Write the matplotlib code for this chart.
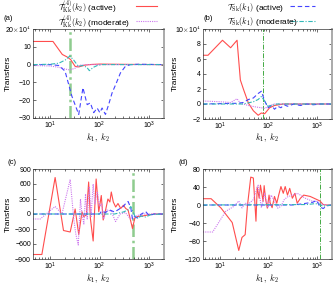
import matplotlib
matplotlib.use('Agg')
import matplotlib.pyplot as plt
from matplotlib.lines import Line2D
from matplotlib.ticker import FixedLocator, FixedFormatter

plt.rcParams['font.family'] = ['Liberation Sans', 'DejaVu Sans']
plt.rcParams['mathtext.fontset'] = 'cm'
plt.rcParams['font.size'] = 5

# 数据 >>>>>>>>>>>>>>>>>>>>>>>>>>>>>>>>>>>>>>>>>>>>>>>>>>>>>>>>>>
# (a) units of 1e4
red_a_k = [4.5, 11.4, 17.6, 22, 26, 32, 38, 50, 70, 100, 200, 500, 2000]
red_a_v = [13, 13, 5.7, 4.3, 2.8, -1.0, -1.3, -0.3, 0.1, 0.3, 0.2, 0.1, 0.0]
vio_a_k = [4.5, 10, 15, 20, 25, 32, 40, 60, 2000]
vio_a_v = [-0.5, -0.8, -1.5, -2.5, -3.0, -2.0, -0.3, 0, 0]
blu_a_k = [4.5, 10, 15, 20, 27.5, 37.8, 46, 56, 65, 76, 89, 101, 112, 131, 152,
           178, 218, 263, 331, 417, 600, 2000]
blu_a_v = [0, 0, -0.5, -3.7, -17.8, -28, -13, -22.5, -21.5, -27, -24.4, -27,
           -24.4, -28, -22.5, -16, -10.3, -4.7, -1, 0, 0.2, 0]
cya_a_k = [4.5, 10, 15, 20, 25, 30, 37, 45, 55, 62, 75, 90, 112, 2000]
cya_a_v = [0, 0.2, 0.8, 2.5, 4.8, 2.5, -1, -0.5, -1.5, -3.4, -1.5, -0.5, 0, 0]

# (b) units of 1e4
red_b_k = [4.5, 5.7, 11.3, 16.6, 22.5, 26.3, 30.7, 38.6, 48.6, 61, 71, 83, 105,
           132, 200, 2000]
red_b_v = [6.5, 6.5, 8.5, 7.5, 8.5, 3.2, 1.9, 0.1, -0.9, -1.5, -1.2, -1.3, -0.5,
           -0.2, 0, 0]
vio_b_k = [4.5, 10, 16.6, 22.5, 26.3, 38.6, 55, 71, 83, 105, 132, 2000]
vio_b_v = [0.4, 0.3, 0.2, 0.7, 0.1, -0.2, -0.4, -0.5, -0.6, -0.2, 0, 0]
blu_b_k = [4.5, 24, 30, 38.6, 48.6, 61, 71, 83, 97, 115, 132, 154, 179, 209, 244,
           331, 447, 612, 833, 1130, 2000]
blu_b_v = [0, 0.1, 0.2, 0.6, 0.8, 1.4, 1.7, 0.4, -0.5, -0.2, -0.7, -0.3, -0.5,
           -0.1, -0.3, 0, -0.2, 0, -0.1, 0, 0]
cya_b_k = [4.5, 30, 48.6, 61, 71, 83, 97, 115, 150, 2000]
cya_b_v = [0, 0, 0.3, 0.6, 1.0, 0.4, -0.3, -0.2, 0, 0]

# (c)
red_c_k = [4.5, 6.8, 12.6, 18.6, 25.4, 32, 37.8, 44, 47.6, 54, 60, 65, 74, 85, 96,
           108, 118, 132, 147, 161, 172, 189, 211, 235, 267, 302, 337, 376, 427,
           461, 513, 583, 739, 935, 1275, 2000]
red_c_v = [-810, -810, 730, -330, -360, 100, -410, 45, -50, -20, 640, -85, -540,
           700, 45, 370, -120, 80, 300, 240, 440, 240, 140, 210, 110, 175, 110,
           80, -150, -290, -85, -50, -40, -20, 0, 0]
vio_c_k = [4.5, 6.3, 12.6, 17.3, 25.4, 30, 33, 37, 41, 44, 48, 52, 56, 62, 67, 74,
           80, 90, 100, 110, 120, 140, 170, 210, 260, 330, 420, 520, 700, 2000]
vio_c_v = [-100, -100, 150, 0, 690, -100, -400, -620, 300, 0, -200, 400, -100,
           550, -50, 600, 200, 450, 150, 200, -100, 80, 60, -150, 0, 30, -100,
           -50, 0, 0]
blu_c_k = [4.5, 100, 110, 130, 160, 200, 250, 300, 330, 376, 427, 461, 513, 583,
           700, 850, 1000, 1275, 2000]
blu_c_v = [0, 0, 60, 30, 80, 40, 100, 150, 200, 250, 120, -100, -50, -80, 0, 50,
           -30, 0, 0]
cya_c_k = [4.5, 200, 300, 376, 427, 470, 520, 583, 700, 850, 1100, 2000]
cya_c_v = [0, 0, 40, 80, 150, 50, -50, -80, -40, -60, -10, 0]

# (d)
red_d_k = [4.5, 6.6, 10.5, 17.9, 24.4, 28.4, 33, 36.9, 43, 48.6, 55, 58.4, 64, 68,
           77, 81, 87, 94, 102, 108, 118, 132, 147, 161, 179, 200, 219, 244, 271,
           307, 347, 386, 450, 525, 713, 898, 1130, 1318, 1538, 2000]
red_d_v = [14, 14, -6.5, -39, -101, -72, -66, 0, 62, 60, -36, 40, 15, 44, 8, 43,
           12, -7, 22, 4, -6, 19, 4, 22, 41, 26, 41, 22, 37, 15, 26, 4, 15, 22,
           19, 14, 9, 1, 0, 0]
vio_d_k = [4.5, 7.1, 13.2, 19.4, 24.4, 28.4, 33, 38.6, 48.6, 55, 61, 71, 83, 97,
           113, 132, 154, 179, 209, 244, 307, 386, 450, 566, 770, 970, 1222,
           1538, 2000]
vio_d_v = [-60, -60, -14, -3, 9, -6.5, 4, 2, 12, 30, 44, -6, 26, -6, 22, 8, -7,
           -3, 12, 18, 22, 26, 22, 15, 9, 8, 2, 0, 0]
blu_d_k = [4.5, 300, 450, 600, 800, 970, 1130, 1318, 1538, 2000]
blu_d_v = [0, 0, 2, 4, 6, 10, -4, -8, -2, 0]
cya_d_k = [4.5, 600, 900, 1100, 1300, 1600, 2000]
cya_d_v = [0, 1, 3, 2, -3, -1, 0]

k_mark = [25, 75, 470, 1150]

yticks_a = [20, 10, 0, -10, -20, -30]
yticks_b = [10, 8, 6, 4, 2, 0, -2]
yticks_c = [900, 600, 300, 0, -300, -600, -900]
yticks_d = [80, 40, 0, -40, -80, -120]

labels = [r'$\mathcal{T}_{\mathrm{Kk}}^{(4)}(k_2)$ (active)',
          r'$\mathcal{T}_{\mathrm{Kk}}^{(4)}(k_2)$ (moderate)',
          r'$\mathcal{T}_{\mathrm{Sk}}(k_1)$ (active)',
          r'$\mathcal{T}_{\mathrm{Sk}}(k_1)$ (moderate)']

# 样式 >>>>>>>>>>>>>>>>>>>>>>>>>>>>>>>>>>>>>>>>>>>>>>>>>>>>>>>>>>
c_red, c_vio, c_blu, c_cya = '#ff4d4d', '#cc77ee', '#4444ff', '#33b8b8'
styles = [dict(color=c_red, ls='-', lw=0.8),
          dict(color=c_vio, ls=(0, (1, 1)), lw=0.8),
          dict(color=c_blu, ls=(0, (4, 2.5)), lw=0.8),
          dict(color=c_cya, ls=(0, (4, 1.5, 1, 1.5)), lw=0.8)]

W, H = 333, 285
fig = plt.figure(figsize=(W / 100, H / 100), dpi=100)


def box(l, r, t, b):
    return [l / W, 1 - b / H, (r - l) / W, (b - t) / H]


def panel(rect, series, ticks, top_label, kv, vstyle):
    ax = fig.add_axes(rect)
    for (k, v), st in zip(series, styles):
        ax.plot(k, v, **st)
    ax.axvline(kv, **vstyle)
    ax.set_xscale('log')
    ax.set_xlim(4.5, 2000)
    ax.set_ylim(min(ticks), max(ticks))
    ax.yaxis.set_major_locator(FixedLocator(ticks))
    txt = [top_label] + [str(t).replace('-', '\u2212') for t in ticks[1:]]
    ax.yaxis.set_major_formatter(FixedFormatter(txt))
    ax.tick_params(which='both', direction='in', top=True, right=True,
                   labelsize=5, pad=1.5, width=0.4)
    ax.tick_params(which='major', length=2.5)
    ax.tick_params(which='minor', length=1.4)
    for s in ax.spines.values():
        s.set_linewidth(0.5)
        s.set_color('#333333')
    ax.spines['right'].set_color('#aaaaaa')
    ax.spines['right'].set_linewidth(1.4)
    return ax


thick = dict(color='#8fcc8f', ls=(0, (5, 1.5, 1, 1.5)), lw=1.8, zorder=0)
thin = dict(color='#44aa44', ls=(0, (5, 1.5, 1, 1.5)), lw=0.7, zorder=0)

panel(box(33, 164, 29, 118),
      [(red_a_k, red_a_v), (vio_a_k, vio_a_v), (blu_a_k, blu_a_v), (cya_a_k, cya_a_v)],
      yticks_a, r'20$\times$10$^{4}$', k_mark[0], thick)
panel(box(203, 332, 29, 119),
      [(red_b_k, red_b_v), (vio_b_k, vio_b_v), (blu_b_k, blu_b_v), (cya_b_k, cya_b_v)],
      yticks_b, r'10$\times$10$^{4}$', k_mark[1], thin)
panel(box(33, 164, 169, 259),
      [(red_c_k, red_c_v), (vio_c_k, vio_c_v), (blu_c_k, blu_c_v), (cya_c_k, cya_c_v)],
      yticks_c, '900', k_mark[2], thick)
panel(box(203, 332, 169, 259),
      [(red_d_k, red_d_v), (vio_d_k, vio_d_v), (blu_d_k, blu_d_v), (cya_d_k, cya_d_v)],
      yticks_d, '80', k_mark[3], thin)

# 标注 >>>>>>>>>>>>>>>>>>>>>>>>>>>>>>>>>>>>>>>>>>>>>>>>>>>>>>>>>>
for (x, y), s in zip([(3, 18), (203, 18), (8, 162), (178, 162)],
                     ['(a)', '(b)', '(c)', '(d)']):
    fig.text(x / W, 1 - y / H, s, fontsize=5.5, va='center', ha='left')
for x, y in [(8, 73), (175, 73), (8, 214), (175, 214)]:
    fig.text(x / W, 1 - y / H, 'Transfers', fontsize=6, rotation=90,
             va='center', ha='center')
for x, y in [(98, 144), (267, 144), (98, 285), (267, 285)]:
    fig.text(x / W, 1 - y / H, r'$k_1,\ k_2$', fontsize=6.3,
             va='bottom', ha='center')

# legend, gnuplot style: text then sample
leg = [(58, 136, 157, 7), (58, 136, 157, 22), (227, 290, 315, 7), (227, 290, 315, 22)]
for (tx, x0, x1, y), lab, st in zip(leg, labels, styles):
    fig.text(tx / W, 1 - y / H, lab, fontsize=6, va='center', ha='left')
    fig.add_artist(Line2D([x0 / W, x1 / W], [1 - (y - 1) / H] * 2,
                          transform=fig.transFigure, **st))

fig.savefig('out.png', dpi=100)
